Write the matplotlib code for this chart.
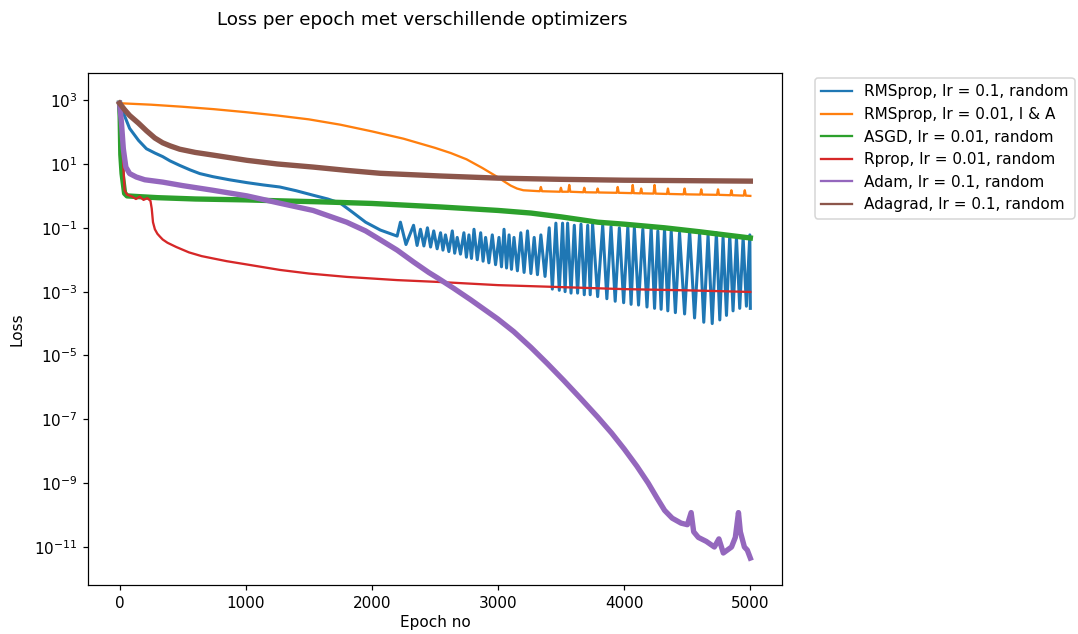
import matplotlib
matplotlib.use("Agg")
import matplotlib.pyplot as plt
from matplotlib.ticker import NullLocator

# values (epoch, loss)
labels = ["RMSprop, lr = 0.1, random", "RMSprop, lr = 0.01, I & A", "ASGD, lr = 0.01, random",
          "Rprop, lr = 0.01, random", "Adam, lr = 0.1, random", "Adagrad, lr = 0.1, random"]

rms_a_epoch = [0, 30, 80, 150, 213, 280, 342, 400, 477, 560, 636, 740, 870, 1010, 1140, 1270, 1400,
               1534, 1650, 1750, 1850, 1950, 2067, 2200,
               2226, 2270, 2330, 2358, 2385, 2412, 2440, 2465, 2490, 2517, 2544, 2563, 2583, 2610,
               2637, 2656, 2676, 2702, 2729, 2749, 2769, 2789, 2809, 2835, 2862, 2881, 2901, 2927,
               2954, 2980, 3007, 3027, 3047, 3067, 3087, 3106, 3126, 3153, 3180, 3206, 3233, 3260,
               3286, 3312, 3339, 3372, 3405, 3430, 3458, 3485, 3511, 3531, 3551, 3578, 3604, 3630,
               3657, 3683, 3710, 3730, 3749, 3789, 3829, 3862, 3895, 3928, 3961, 3995, 4028, 4054,
               4080, 4113, 4147, 4180, 4213, 4240, 4266, 4292, 4319, 4345, 4372, 4405, 4438, 4478,
               4518, 4557, 4597, 4630, 4664, 4697, 4730, 4757, 4783, 4810, 4836, 4862, 4889, 4915,
               4942, 4968, 4995, 4999]
rms_a_loss = [800, 400, 130, 55, 30, 22, 17, 12.5, 9, 6.5, 5, 4, 3.2, 2.6, 2.2, 1.9, 1.45,
              1.05, 0.8, 0.59, 0.3, 0.15, 0.085, 0.055,
              0.15, 0.03, 0.12, 0.028, 0.09, 0.027, 0.1, 0.025, 0.08, 0.022, 0.07, 0.02, 0.06, 0.018,
              0.08, 0.016, 0.05, 0.015, 0.07, 0.012, 0.06, 0.011, 0.09, 0.01, 0.07, 0.009, 0.05, 0.008,
              0.06, 0.007, 0.05, 0.006, 0.09, 0.0055, 0.06, 0.005, 0.05, 0.0045, 0.07, 0.004, 0.08, 0.0037,
              0.05, 0.0034, 0.06, 0.003, 0.1, 0.0012, 0.14, 0.0011, 0.14, 0.001, 0.14, 0.0009, 0.12, 0.0009,
              0.13, 0.0008, 0.12, 0.0008, 0.13, 0.0007, 0.12, 0.0006, 0.11, 0.0005, 0.1, 0.00045, 0.11, 0.0004,
              0.1, 0.00038, 0.09, 0.00033, 0.1, 0.0003, 0.08, 0.00028, 0.09, 0.00025, 0.08, 0.00022, 0.07, 0.0002,
              0.08, 0.00015, 0.07, 0.00011, 0.06, 0.0001, 0.07, 0.00013, 0.05, 0.00018, 0.06, 0.00025, 0.05, 0.0003,
              0.05, 0.00035, 0.06, 0.0003]

rms_b_epoch = [0, 250, 500, 750, 1000, 1250, 1500, 1750, 2000, 2250, 2500, 2625, 2750, 2875, 3000,
               3050, 3100, 3150, 3200, 3330, 3339, 3348, 3490, 3498, 3506, 3556, 3564, 3572, 3675,
               3683, 3691, 3781, 3789, 3797, 3940, 3948, 3956, 4059, 4067, 4075, 4126, 4134, 4142,
               4232, 4240, 4248, 4338, 4346, 4354, 4470, 4478, 4486, 4602, 4610, 4618, 4735, 4743,
               4751, 4841, 4849, 4857, 4947, 4955, 4963, 4999]
rms_b_loss = [800, 720, 620, 520, 420, 330, 250, 170, 105, 62, 32, 22, 14, 7.5, 3.8,
              2.8, 2.1, 1.7, 1.5, 1.4, 1.9, 1.4, 1.35, 1.8, 1.35, 1.35, 2.2, 1.35, 1.3,
              1.8, 1.3, 1.28, 1.7, 1.28, 1.25, 1.9, 1.25, 1.22, 2.2, 1.22, 1.2, 1.7, 1.2,
              1.18, 2.2, 1.18, 1.15, 1.7, 1.15, 1.12, 1.7, 1.12, 1.1, 1.6, 1.1, 1.08, 1.6,
              1.08, 1.05, 1.5, 1.05, 1.02, 1.5, 1.02, 1.0]

asgd_epoch = [0, 5, 10, 20, 40, 60, 150, 300, 600, 1000, 1270, 1600, 2000, 2544, 3000, 3260,
              3500, 3790, 4000, 4320, 4600, 4999]
asgd_loss = [800, 300, 20, 5, 1.2, 1.0, 0.95, 0.88, 0.8, 0.75, 0.7, 0.65, 0.58, 0.45, 0.35, 0.29,
             0.22, 0.15, 0.13, 0.1, 0.075, 0.048]

rprop_epoch = [0, 10, 25, 40, 60, 100, 130, 160, 190, 220, 245, 255, 265, 280, 300, 320, 342, 380,
               450, 550, 650, 740, 850, 1000, 1270, 1500, 1800, 2200, 2544, 3000, 3470, 4000, 4500, 4999]
rprop_loss = [800, 300, 20, 1.5, 1.1, 0.95, 0.8, 0.95, 0.75, 0.85, 0.7, 0.4, 0.15, 0.09, 0.065, 0.053,
              0.043, 0.034, 0.025, 0.017, 0.013, 0.011, 0.009, 0.0072, 0.0048, 0.0037, 0.0029, 0.0023,
              0.002, 0.0016, 0.0014, 0.0012, 0.0011, 0.00098]

adam_epoch = [0, 15, 30, 50, 80, 133, 200, 342, 500, 740, 1010, 1270, 1534, 1800, 1950, 2067,
              2200, 2330, 2450, 2520, 2650, 2782, 2997, 3124, 3260, 3390, 3520, 3650, 3790, 3900, 4000,
              4100, 4190, 4260, 4320, 4380, 4450, 4500, 4530, 4550, 4587, 4650, 4714, 4750, 4785,
              4850, 4880, 4905, 4920, 4952, 4975, 4999]
adam_loss = [800, 200, 30, 8, 5, 3.9, 3.2, 2.7, 2.1, 1.5, 1.0, 0.59, 0.35, 0.15, 0.08, 0.042,
             0.02, 0.0085, 0.004, 0.0027, 1.26e-3, 5.6e-4, 1.4e-4, 5.6e-5, 1.8e-5, 5.6e-6, 1.66e-6, 4.7e-7,
             1.17e-7, 3.7e-8, 1.17e-8, 3.4e-9, 1e-9, 3.4e-10, 1.4e-10, 8e-11, 5.6e-11, 5e-11, 1.2e-10, 3e-11,
             2e-11, 1.5e-11, 1e-11, 1.8e-11, 6.5e-12, 1e-11, 2e-11, 1.2e-10, 3e-11, 1e-11, 8e-12, 4.5e-12]

adagrad_epoch = [0, 40, 80, 150, 213, 280, 342, 400, 477, 600, 740, 1010, 1250, 1534, 1800, 2067,
                 2544, 3000, 3500, 4000, 4500, 4999]
adagrad_loss = [800, 500, 330, 190, 110, 65, 46, 37, 29, 23, 19, 13, 10, 8, 6.3, 5.1, 4.2, 3.6,
                3.3, 3.1, 3.0, 2.9]

series = [(rms_a_epoch, rms_a_loss), (rms_b_epoch, rms_b_loss), (asgd_epoch, asgd_loss),
          (rprop_epoch, rprop_loss), (adam_epoch, adam_loss), (adagrad_epoch, adagrad_loss)]
widths = [2.0, 1.5, 3.5, 1.5, 3.5, 3.5]  # noisy runs look like thick bands

fig = plt.figure(figsize=(1078 / 110, 634 / 110), dpi=110)
ax = fig.add_axes([88 / 1078, 49 / 634, 694 / 1078, 512 / 634])
for (ep, loss), lab, lw in zip(series, labels, widths):
    ax.plot(ep, loss, label=lab, lw=lw)

ax.set_yscale("log")
ax.set_ylim(10 ** -12.19, 10 ** 3.85)
ax.set_yticks([10.0 ** k for k in range(3, -12, -2)])
ax.yaxis.set_minor_locator(NullLocator())
ax.set_xlim(-250, 5250)
ax.set_xlabel("Epoch no", labelpad=3)
ax.set_ylabel("Loss", labelpad=6)
leg = ax.legend(loc="upper left", bbox_to_anchor=(1.0476, 0.99), borderaxespad=0)
for ln in leg.get_lines():
    ln.set_linewidth(1.5)
fig.text(422 / 1078, 1 - 20 / 634, "Loss per epoch met verschillende optimizers",
         ha="center", va="center", fontsize=12)

fig.savefig("out.png", dpi=110)
